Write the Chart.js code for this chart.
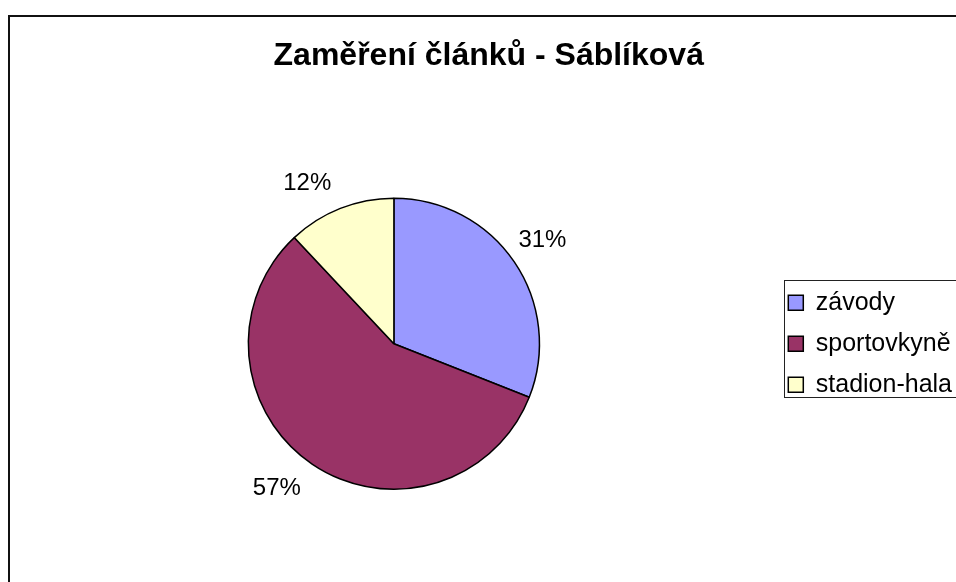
<!DOCTYPE html>
<html>
<head>
<meta charset="utf-8">
<script src="https://cdn.jsdelivr.net/npm/chart.js@4"></script>
<style>
  html, body { margin: 0; padding: 0; background: #fff; overflow: hidden; }
  #wrap { width: 980px; height: 582px; }
</style>
</head>
<body>
<div id="wrap"><canvas id="pie" width="980" height="582"></canvas></div>
<script>
const categories = ['závody', 'sportovkyně', 'stadion-hala'];
const shares = [31, 57, 12];
const sliceColors = ['#9999FF', '#993366', '#FFFFCC'];
const chartTitle = 'Zaměření článků - Sáblíková';

const FONT = '"Liberation Sans", Arial, sans-serif';

// percentage labels just outside each slice, Excel style
const pctLabels = {
  id: 'pctLabels',
  afterDatasetsDraw(chart) {
    const ctx = chart.ctx;
    const meta = chart.getDatasetMeta(0);
    const total = shares.reduce((a, b) => a + b, 0);
    ctx.save();
    ctx.font = '24px ' + FONT;
    ctx.fillStyle = '#000';
    ctx.textAlign = 'center';
    ctx.textBaseline = 'middle';
    meta.data.forEach((arc, i) => {
      const { x, y, startAngle, endAngle, outerRadius } =
        arc.getProps(['x', 'y', 'startAngle', 'endAngle', 'outerRadius'], true);
      const mid = (startAngle + endAngle) / 2;
      const ax = x + Math.cos(mid) * (outerRadius + 11);
      const ay = y + Math.sin(mid) * (outerRadius + 11);
      const txt = Math.round(shares[i] / total * 100) + '%';
      const w = ctx.measureText(txt).width;
      ctx.fillText(txt, ax + Math.sign(Math.cos(mid)) * w / 2 - 5, ay + Math.sign(Math.sin(mid)) * 15);
    });
    ctx.restore();
  }
};

// outer chart frame + legend frame
const frames = {
  id: 'frames',
  afterDraw(chart) {
    const ctx = chart.ctx;
    ctx.save();
    ctx.strokeStyle = '#111';
    ctx.lineWidth = 2;
    ctx.strokeRect(9, 16, chart.width + 20, chart.height + 20);
    const lg = chart.legend;
    const hb = lg.legendHitBoxes;
    if (hb && hb.length) {
      const top = hb[0].top - 10;
      const bottom = hb[hb.length - 1].top + hb[hb.length - 1].height;
      ctx.lineWidth = 1;
      ctx.strokeStyle = '#222';
      ctx.strokeRect(Math.round(lg.left + 11.5) + 0.5, Math.round(top) + 0.5, 300, Math.round(bottom - top));
    }
    ctx.restore();
  }
};

new Chart(document.getElementById('pie').getContext('2d'), {
  type: 'pie',
  data: {
    labels: categories,
    datasets: [{
      data: shares,
      backgroundColor: sliceColors,
      borderColor: '#000',
      borderWidth: 1.5
    }]
  },
  options: {
    responsive: false,
    animation: false,
    layout: {
      padding: { left: 15.5, right: 18, top: 0, bottom: 92 }
    },
    plugins: {
      title: {
        display: true,
        text: chartTitle,
        color: '#000',
        font: { family: FONT, size: 32, weight: 'bold' },
        padding: { top: 37, bottom: 122 }
      },
      legend: {
        position: 'right',
        fullSize: false,
        labels: {
          color: '#000',
          font: { family: FONT, size: 25 },
          boxWidth: 15,
          boxHeight: 15,
          padding: 16
        }
      },
      tooltip: { enabled: false }
    }
  },
  plugins: [pctLabels, frames]
});
</script>
</body>
</html>
